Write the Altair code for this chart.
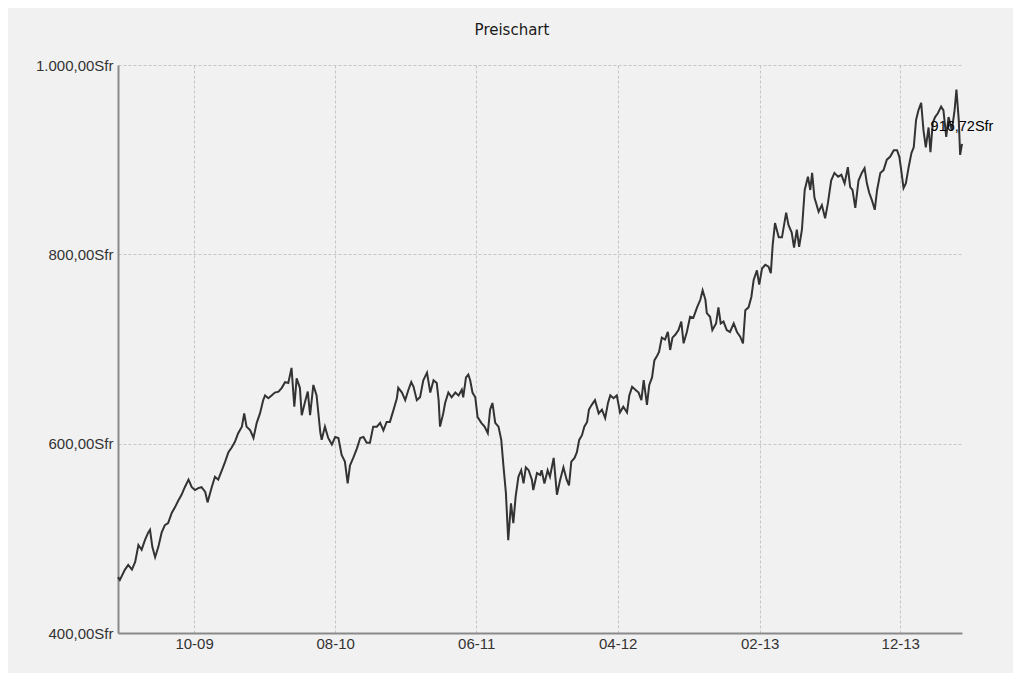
import altair as alt
import pandas as pd

# Days since 2009-04-20 and closing prices (Sfr)
days = [0, 4, 15, 22, 30, 37, 44, 51, 58, 65, 69, 74, 80, 87, 94, 101, 108, 116, 123, 130,
        137, 144, 152, 159, 166, 173, 180, 188, 193, 202, 209, 216, 224, 231, 238, 245, 252, 259, 267, 272,
        277, 285, 292, 299, 306, 313, 317, 324, 331, 338, 346, 353, 360, 367, 374, 380, 385, 392, 396, 403,
        409, 414, 421, 428, 436, 439, 446, 453, 461, 468, 475, 482, 489, 495, 500, 507, 515, 522, 529, 536,
        543, 550, 558, 565, 572, 579, 586, 594, 601, 604, 612, 619, 626, 632, 637, 644, 651, 658, 666, 673,
        680, 687, 691, 694, 701, 705, 712, 719, 727, 734, 741, 744, 750, 755, 759, 764, 770, 775, 783, 790,
        797, 802, 807, 813, 820, 826, 831, 836, 841, 847, 852, 857, 863, 869, 874, 879, 885, 892, 895, 903,
        910, 913, 919, 926, 931, 939, 946, 953, 960, 967, 972, 977, 984, 989, 994, 1000, 1005, 1011, 1015, 1021,
        1028, 1036, 1043, 1050, 1056, 1061, 1068, 1075, 1082, 1089, 1097, 1102, 1108, 1115, 1122, 1128, 1133, 1140, 1145, 1151,
        1156, 1161, 1166, 1172, 1179, 1185, 1190, 1195, 1201, 1208, 1214, 1219, 1226, 1233, 1240, 1248, 1255, 1260, 1266, 1269,
        1276, 1281, 1289, 1294, 1299, 1305, 1312, 1319, 1327, 1334, 1341, 1347, 1352, 1359, 1365, 1370, 1377, 1382, 1388, 1395,
        1402, 1407, 1411, 1416, 1424, 1431, 1440, 1445, 1452, 1457, 1463, 1468, 1474, 1480, 1487, 1492, 1496, 1501, 1510, 1517,
        1524, 1530, 1537, 1544, 1552, 1559, 1566, 1573, 1578, 1583, 1589, 1596, 1603, 1609, 1614, 1619, 1625, 1631, 1636, 1643,
        1650, 1657, 1664, 1672, 1679, 1684, 1688, 1693, 1698, 1704, 1710, 1715, 1720, 1725, 1731, 1736, 1741, 1747, 1751, 1756,
        1761, 1767, 1774, 1779, 1785, 1790, 1797, 1803, 1807, 1812, 1815, 1819]

prices = [459, 456, 467, 472, 467, 475, 493, 488, 498, 506, 509, 491, 480, 491, 506, 514, 516, 527, 533, 540,
          546, 554, 562, 554, 551, 553, 554, 549, 538, 554, 565, 562, 572, 581, 591, 596, 602, 611, 618, 632,
          618, 614, 606, 622, 632, 646, 651, 648, 651, 654, 655, 659, 665, 664, 680, 639, 669, 659, 630, 644,
          655, 630, 662, 651, 612, 604, 618, 606, 599, 607, 606, 588, 581, 558, 577, 585, 595, 606, 607, 601,
          601, 618, 618, 622, 614, 623, 623, 636, 648, 659, 654, 646, 657, 665, 660, 646, 649, 667, 675, 654,
          667, 664, 646, 618, 632, 643, 654, 649, 654, 651, 657, 649, 670, 673, 667, 654, 649, 628, 622, 618,
          611, 636, 643, 622, 618, 604, 575, 548, 498, 537, 516, 544, 565, 572, 558, 575, 572, 562, 551, 569,
          567, 572, 558, 572, 565, 585, 546, 562, 575, 562, 556, 581, 585, 591, 604, 609, 618, 623, 636, 641,
          646, 632, 636, 627, 643, 651, 648, 651, 633, 639, 633, 651, 660, 657, 654, 646, 667, 641, 662, 670,
          688, 692, 697, 712, 710, 718, 699, 712, 715, 720, 729, 706, 718, 734, 733, 744, 752, 762, 752, 738,
          734, 720, 727, 744, 727, 729, 720, 718, 727, 718, 713, 706, 741, 744, 755, 773, 783, 768, 785, 789,
          787, 780, 810, 833, 818, 818, 844, 831, 823, 807, 826, 808, 826, 868, 882, 868, 886, 860, 845, 852,
          838, 854, 878, 886, 882, 884, 875, 892, 871, 868, 849, 878, 886, 891, 875, 865, 857, 847, 868, 886,
          889, 900, 903, 910, 910, 903, 889, 870, 875, 892, 907, 913, 942, 952, 960, 931, 913, 934, 908, 939,
          945, 949, 956, 952, 924, 945, 931, 952, 974, 942, 905, 916.72]

x_tick_dates = [(2009, 10), (2010, 8), (2011, 6), (2012, 4), (2013, 2), (2013, 12)]
y_ticks = [400, 600, 800, 1000]
last_label = "916,72Sfr"
title_text = "Preischart"

start = pd.Timestamp("2009-04-20")
dates = [(start + pd.Timedelta(days=d)).strftime("%Y-%m-%d") for d in days]
df = pd.DataFrame({"date": dates, "price": prices})
last = pd.DataFrame({"date": [dates[-1]], "price": [prices[-1]], "label": [last_label]})
title_df = pd.DataFrame({"t": [title_text]})

end = start + pd.Timedelta(days=days[-1])
x_scale = alt.Scale(
    type="utc",
    domain=[alt.DateTime(year=start.year, month=start.month, date=start.day, utc=True),
            alt.DateTime(year=end.year, month=end.month, date=end.day, utc=True)],
    nice=False,
)
x_axis = alt.Axis(
    values=[alt.DateTime(year=y, month=m, date=1, utc=True) for y, m in x_tick_dates],
    labelExpr="utcFormat(datum.value, '%m-%y')", title=None,
)
y_scale = alt.Scale(domain=[400, 1000], nice=False, zero=False)
y_axis = alt.Axis(
    values=y_ticks, title=None,
    labelExpr="replace(replace(replace(format(datum.value, ',.2f'), ',', '#'), '.', ','), '#', '.') + 'Sfr'",
)

line = alt.Chart(df).mark_line(color="#333333", strokeWidth=2).encode(
    x=alt.X("date:T", scale=x_scale, axis=x_axis),
    y=alt.Y("price:Q", scale=y_scale, axis=y_axis),
)

label = alt.Chart(last).mark_text(
    align="center", baseline="middle", dy=-17, fontSize=14.5,
    font="Liberation Sans", color="#000000",
).encode(x="date:T", y="price:Q", text="label:N")

# chart title, centred on the whole picture above the plot
title = alt.Chart(title_df).mark_text(
    align="center", baseline="alphabetic", fontSize=15, font="DejaVu Sans",
    color="#1a1a1a",
).encode(x=alt.value(394), y=alt.value(-30), text="t:N")

chart = alt.layer(line, label, title).properties(
    width=844, height=568,
    background="#f1f1f1",
    padding={"left": 110, "top": 57, "right": 51, "bottom": 40},
    autosize=alt.AutoSizeParams(type="none"),
).configure_view(stroke=None).configure_axis(
    grid=True, gridColor="#c6c6c6", gridDash=[3, 2], gridWidth=1,
    ticks=False, domainColor="#8a8a8a", domainWidth=2,
    labelFont="Liberation Sans", labelFontSize=15, labelColor="#333333",
).configure_axisX(labelPadding=3).configure_axisY(labelPadding=5)

chart.save("out.html", embed_options={"renderer": "svg", "actions": False})
